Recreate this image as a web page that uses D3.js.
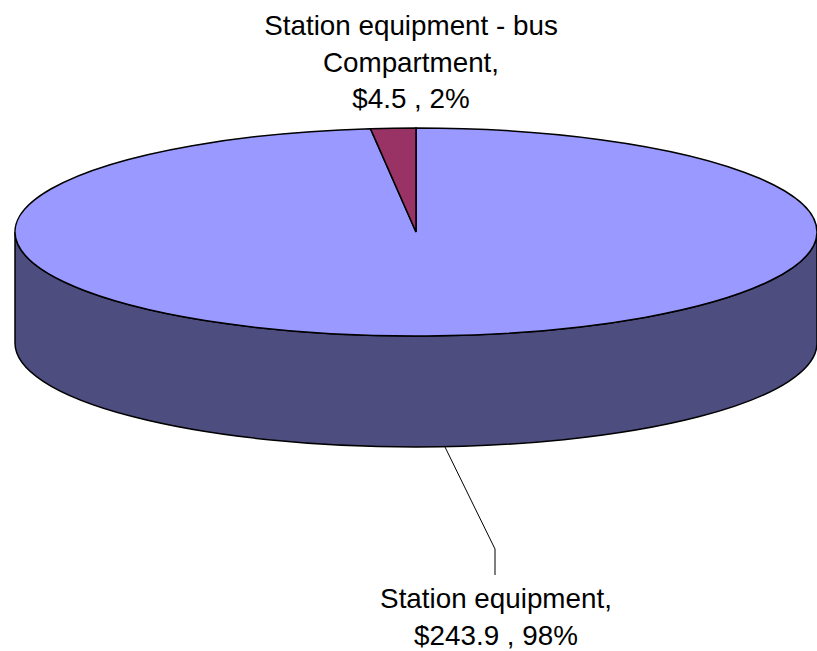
<!DOCTYPE html>
<html>
<head>
<meta charset="utf-8">
<script src="https://cdn.jsdelivr.net/npm/d3@7"></script>
<style>
  html, body { margin: 0; padding: 0; background: #fff; }
  svg { display: block; }
  text { font-family: "Liberation Sans", Arial, sans-serif; font-size: 27.8px; fill: #000; }
</style>
</head>
<body>
<svg id="chart" width="817" height="651"></svg>
<script>
const categories = ['Station equipment', 'Station equipment - bus Compartment'];
const values = [243.9, 4.5];
const percents = [98, 2];
const colors = ['#9999ff', '#993366'];
const wallColor = '#4d4d80';

const cx = 416, cy = 232;
const rx = 401, ry = 104, depth = 111;

const svg = d3.select('#chart');

const arcs = d3.pie().sort(null)(values);

// flat pie squashed into an ellipse
const arc = d3.arc().innerRadius(0).outerRadius(rx);

// front wall, half ellipse down at the depth and back along the top edge
svg.append('path')
  .attr('d', `M${cx - rx},${cy} L${cx - rx},${cy + depth} A${rx},${ry} 0 0 0 ${cx + rx},${cy + depth} L${cx + rx},${cy} A${rx},${ry} 0 0 1 ${cx - rx},${cy} Z`)
  .attr('fill', wallColor)
  .attr('stroke', '#000')
  .attr('stroke-width', 1.5);

svg.append('g')
  .attr('transform', `translate(${cx},${cy}) scale(1,${ry / rx})`)
  .selectAll('path')
  .data(arcs)
  .join('path')
  .attr('d', arc)
  .attr('fill', (d, i) => colors[i])
  .attr('stroke', '#000')
  .attr('stroke-width', 1.5)
  .attr('vector-effect', 'non-scaling-stroke');

//leader line for big slice
svg.append('polyline')
  .attr('points', '445,447 495,549 495,575')
  .attr('fill', 'none')
  .attr('stroke', '#000')
  .attr('stroke-width', 1);

const labelA = ['Station equipment - bus', 'Compartment,', `$${values[1]} , ${percents[1]}%`];
const labelB = [`${categories[0]},`, `$${values[0]} , ${percents[0]}%`];

svg.append('g').selectAll('text')
  .data(labelA)
  .join('text')
  .attr('x', 411)
  .attr('y', (d, i) => 35 + i * 36.5)
  .attr('text-anchor', 'middle')
  .text(d => d);

svg.append('g').selectAll('text')
  .data(labelB)
  .join('text')
  .attr('x', 496)
  .attr('y', (d, i) => 608 + i * 36.5)
  .attr('text-anchor', 'middle')
  .text(d => d);
</script>
</body>
</html>
